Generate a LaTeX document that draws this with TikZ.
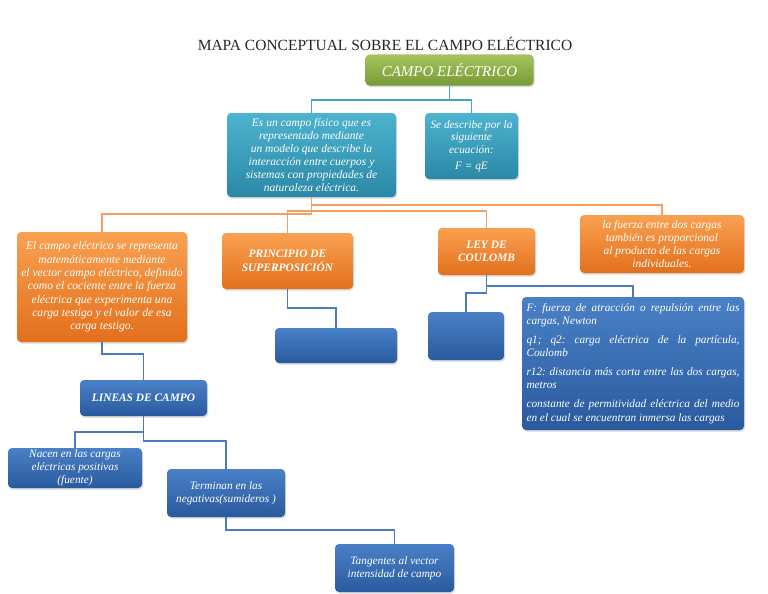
\documentclass[tikz,border=0pt]{standalone}
\usepackage{fontspec}
\setmainfont{Liberation Serif}
\usetikzlibrary{shadows}
\definecolor{gA}{HTML}{A5C45E}
\definecolor{gB}{HTML}{789A34}
\definecolor{tA}{HTML}{4DB3CE}
\definecolor{tB}{HTML}{2A88A6}
\definecolor{oA}{HTML}{F9A151}
\definecolor{oB}{HTML}{E2701C}
\definecolor{bA}{HTML}{4A80C6}
\definecolor{bB}{HTML}{2A5A9E}
\definecolor{tLine}{HTML}{45A6C4}
\definecolor{oLine}{HTML}{F4A060}
\definecolor{bLine}{HTML}{4A7BBF}
\newcommand{\nohyph}{\hyphenpenalty=10000\relax\exhyphenpenalty=10000\relax}
\frenchspacing
\begin{document}
\begin{tikzpicture}[x=1pt,y=-1pt,
  box/.style={rounded corners=4pt, draw=none, inner sep=1pt, align=center, text=white,
    drop shadow={opacity=0.3,shadow xshift=1pt,shadow yshift=-1.5pt}},
  greenbox/.style={box, top color=gA, bottom color=gB},
  tealbox/.style={box, top color=tA, bottom color=tB},
  orangebox/.style={box, top color=oA, bottom color=oB},
  bluebox/.style={box, top color=bA, bottom color=bB},
  txt/.style={font=\itshape\fontsize{11.3}{12.8}\selectfont},
  head/.style={font=\bfseries\itshape\fontsize{11.4}{13.5}\selectfont},
  conn/.style={line width=1.7pt},
  tconn/.style={conn, draw=tLine},
  oconn/.style={conn, draw=oLine},
  bconn/.style={conn, draw=bLine}]
\useasboundingbox (0,0) rectangle (768,594);

\node[font=\fontsize{15.5}{18}\selectfont, text=black!85] (title) at (385,44) {MAPA CONCEPTUAL SOBRE EL CAMPO ELÉCTRICO};

\node[greenbox, minimum width=168pt, minimum height=31pt, font=\itshape\fontsize{15}{18}\selectfont] (ce) at (449.5,70) {CAMPO ELÉCTRICO};

\node[tealbox, font=\itshape\fontsize{11.5}{12.9}\selectfont, minimum width=169pt, minimum height=84pt] (def) at (311.5,155)
  {Es un campo físico que es\\ representado mediante\\ un modelo que describe la\\ interacción entre cuerpos y\\ sistemas con propiedades de\\ naturaleza eléctrica.};
\node[tealbox, txt, minimum width=93pt, minimum height=66pt] (ecu) at (471.5,146)
  {Se describe por la\\ siguiente\\ ecuación:\\[3pt] F = qE};

\node[orangebox, minimum width=170pt, minimum height=110pt, font=\itshape\fontsize{11.6}{13.3}\selectfont] (vec) at (102,287)
  {El campo eléctrico se representa\\ matemáticamente mediante\\ el vector campo eléctrico, definido\\ como el cociente entre la fuerza\\ eléctrica que experimenta una\\ carga testigo y el valor de esa\\ carga testigo.};
\node[orangebox, head, minimum width=131pt, minimum height=56pt] (sup) at (287.5,261) {PRINCIPIO DE\\ SUPERPOSICIÓN};
\node[orangebox, head, minimum width=97pt, minimum height=47pt] (ley) at (486.5,251.5) {LEY DE\\ COULOMB};
\node[orangebox, font=\itshape\fontsize{11.5}{12.9}\selectfont, minimum width=164pt, minimum height=58pt] (prop) at (662,244)
  {la fuerza entre dos cargas\\ también es proporcional\\ al producto de las cargas\\ individuales.};

\node[bluebox, minimum width=122pt, minimum height=35pt] (blankA) at (336,345.5) {};
\node[bluebox, minimum width=76pt, minimum height=48pt] (blankB) at (466,336) {};
\node[bluebox, minimum width=222pt, minimum height=133pt, text width=213pt, align=justify,
  font=\itshape\fontsize{11.3}{13.3}\selectfont] (vars) at (633,363.5)
  {\nohyph\frenchspacing\setlength{\parskip}{5.5pt}%
   F: fuerza de atracción o repulsión entre las\linebreak cargas, Newton\par
   q1; q2: carga eléctrica de la partícula,\linebreak Coulomb\par
   r12: distancia más corta entre las dos cargas,\linebreak metros\par
   constante de permitividad eléctrica del medio\linebreak en el cual se encuentran inmersa las cargas};

\node[bluebox, head, minimum width=127pt, minimum height=36pt] (lin) at (143.5,398) {LINEAS DE CAMPO};
\node[bluebox, txt, minimum width=134pt, minimum height=40pt] (nac) at (75,468) {Nacen en las cargas\\ eléctricas positivas\\ (fuente)};
\node[bluebox, txt, minimum width=118pt, minimum height=48pt] (ter) at (226,493) {Terminan en las\\ negativas(sumideros )};
\node[bluebox, txt, minimum width=119pt, minimum height=48pt] (tan) at (394.5,568) {Tangentes al vector\\ intensidad de campo};

% connectors
\draw[tconn] (ce.south) -- ++(0,14) -| (def.north);
\draw[tconn] (ce.south) -- ++(0,14) -| (ecu.north);

\draw[oconn] (def.south) -- ++(0,17) -| (vec.north);
\draw[oconn] (def.south) -- ++(0,14) -| (sup.north);
\draw[oconn] (def.south) -- ++(0,14) -| (ley.north);
\draw[oconn] (def.south) -- ++(0,8) -| (prop.north);

\draw[bconn] (sup.south) -- ++(0,19) -| (blankA.north);
\draw[bconn] (ley.south) -- ++(0,11) -| (vars.north);
\draw[bconn] (ley.south) -- ++(0,18) -| (blankB.north);
\draw[bconn] (vec.south) -- ++(0,12) -| (lin.north);
\draw[bconn] (lin.south) -- ++(0,16) -| (nac.north);
\draw[bconn] (lin.south) -- ++(0,25) -| (ter.north);
\draw[bconn] (ter.south) -- ++(0,13) -| (tan.north);
\end{tikzpicture}
\end{document}
